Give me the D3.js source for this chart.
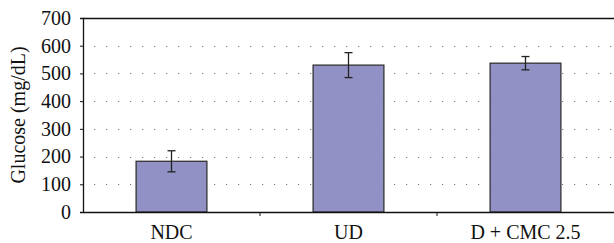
<!DOCTYPE html>
<html>
<head>
<meta charset="utf-8">
<script src="https://cdn.jsdelivr.net/npm/d3@7"></script>
<style>
    body { margin: 0; background: #fff; }
</style>
</head>
<body>
<svg id="chart" width="614" height="243"></svg>
<script>
    var categories = ['NDC', 'UD', 'D + CMC 2.5'];
    var glucose = [183, 530, 537];
    var glucoseSd = [38, 45, 24];
    var yTicks = [0, 100, 200, 300, 400, 500, 600, 700];

    var serif = '"Liberation Serif", "Times New Roman", "Tinos", serif';

    var svg = d3.select('#chart');
    var margin = {top: 18, right: 0, bottom: 32, left: 83};
    var width = 614 - margin.left - margin.right,
        height = 212 - margin.top;

    var x = d3.scaleBand().domain(categories).range([0, width]).paddingInner(0.6).paddingOuter(0.3);
    var y = d3.scaleLinear().domain([0, 700]).range([height, 0]);

    var g = svg.append('g').attr('transform', 'translate(' + margin.left + ',' + margin.top + ')');

    // dotted grid
    g.selectAll('.grid').data(yTicks.slice(1, -1)).enter().append('line')
        .attr('x1', 11).attr('x2', width)
        .attr('y1', function (d) { return Math.round(y(d)) + 0.5; })
        .attr('y2', function (d) { return Math.round(y(d)) + 0.5; })
        .attr('stroke', '#777').attr('stroke-width', 1)
        .attr('stroke-dasharray', '1.2,10.8');

    // top border
    g.append('line').attr('x1', 0).attr('x2', width).attr('y1', 0.5).attr('y2', 0.5)
        .attr('stroke', '#111').attr('stroke-width', 1.3);

    // bars
    g.selectAll('.bar').data(glucose).enter().append('rect')
        .attr('x', function (d, i) { return x(categories[i]); })
        .attr('y', function (d) { return y(d); })
        .attr('width', x.bandwidth())
        .attr('height', function (d) { return height - y(d); })
        .attr('fill', '#9191c5').attr('stroke', '#333').attr('stroke-width', 1.3);

    // error bars
    var eb = g.selectAll('.err').data(glucose).enter().append('g')
        .attr('transform', function (d, i) { return 'translate(' + (x(categories[i]) + x.bandwidth() / 2) + ',0)'; });
    eb.append('line').attr('x1', 0).attr('x2', 0)
        .attr('y1', function (d, i) { return y(d + glucoseSd[i]); })
        .attr('y2', function (d, i) { return y(d - glucoseSd[i]); })
        .attr('stroke', '#222').attr('stroke-width', 1.3);
    [1, -1].forEach(function (s) {
        eb.append('line').attr('x1', -4).attr('x2', 4)
            .attr('y1', function (d, i) { return y(d + s * glucoseSd[i]); })
            .attr('y2', function (d, i) { return y(d + s * glucoseSd[i]); })
            .attr('stroke', '#222').attr('stroke-width', 1.3);
    });

    // y axis
    var yAxis = g.append('g').call(d3.axisLeft(y).tickValues(yTicks).tickSize(3).tickPadding(9));
    yAxis.attr('font-family', null).attr('font-size', null);
    yAxis.select('.domain').attr('stroke', '#111').attr('stroke-width', 1.3);
    yAxis.selectAll('.tick line').attr('stroke', '#111');
    yAxis.selectAll('.tick text').style('font-family', serif).style('font-size', '20px').attr('fill', '#111');

    // x axis
    var xAxis = g.append('g').attr('transform', 'translate(0,' + height + ')')
        .call(d3.axisBottom(x).tickSize(0).tickPadding(13));
    xAxis.attr('font-family', null).attr('font-size', null);
    xAxis.select('.domain').attr('stroke', '#111').attr('stroke-width', 1.3);
    xAxis.selectAll('.tick text').style('font-family', serif).style('font-size', '20px').attr('fill', '#111');
    // boundary ticks between categories
    var step = x.step();
    xAxis.selectAll('.sep').data([1, 2]).enter().append('line')
        .attr('x1', function (d) { return x(categories[d]) - (step - x.bandwidth()) / 2; })
        .attr('x2', function (d) { return x(categories[d]) - (step - x.bandwidth()) / 2; })
        .attr('y1', 0).attr('y2', 4).attr('stroke', '#111');

    // y title
    svg.append('text')
        .attr('transform', 'translate(25,' + (margin.top + height / 2) + ') rotate(-90)')
        .attr('text-anchor', 'middle').attr('fill', '#111')
        .style('font-family', serif).style('font-size', '20px')
        .text('Glucose (mg/dL)');
</script>
</body>
</html>
